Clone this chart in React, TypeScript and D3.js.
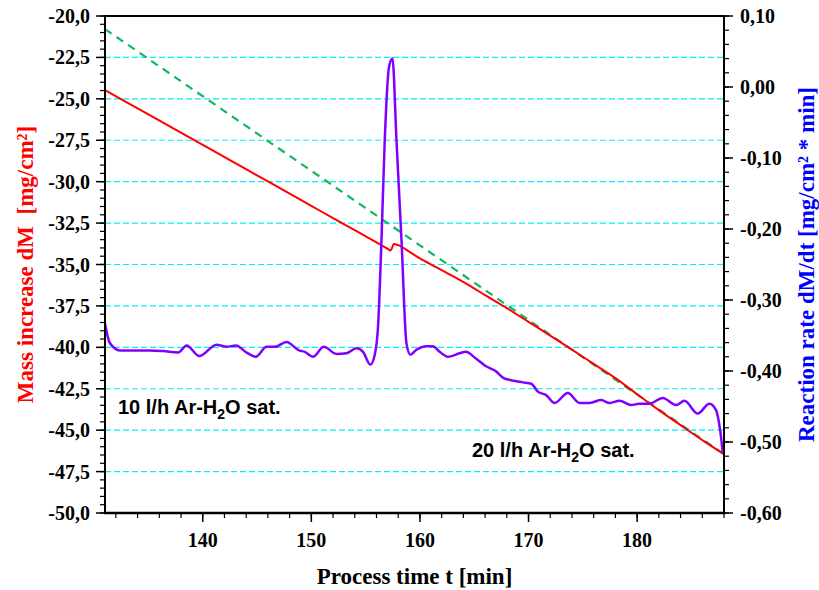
import React from 'react';
import * as d3 from 'd3';

const W = 819;
const H = 590;
const PL = 105, PR = 724, PT = 16, PB = 513;

const xMajorTicks = [140, 150, 160, 170, 180];
const xMinorTicks = d3.range(132, 189, 2);
const yLeftTicks = [-20, -22.5, -25, -27.5, -30, -32.5, -35, -37.5, -40, -42.5, -45, -47.5, -50];
const yLeftMinor = d3.range(-50, -19.9, 0.5);
const yRightTicks = [0.1, 0, -0.1, -0.2, -0.3, -0.4, -0.5, -0.6];
const yRightMinor = d3.range(-0.6, 0.101, 0.02);
const gridValues = [-22.5, -25, -27.5, -30, -32.5, -35, -37.5, -40, -42.5, -45, -47.5];

// Mass increase (red)
const redTime = [131, 133, 135, 137, 140, 143, 145, 148, 150, 152, 154, 156, 157, 157.3, 157.6, 158, 159, 160, 161.5, 163, 164.5, 166, 168, 170, 172, 174, 176, 178, 180, 182, 184, 186, 188];
const redMass = [-24.47, -25.21, -25.94, -26.68, -27.78, -28.88, -29.62, -30.72, -31.46, -32.2, -32.93, -33.67, -34.04, -34.15, -33.77, -33.83, -34.22, -34.63, -35.16, -35.69, -36.25, -36.85, -37.63, -38.46, -39.29, -40.14, -41.0, -41.86, -42.83, -43.79, -44.7, -45.6, -46.45];

// Linear fit (green dashed)
const greenTime = [131, 188];
const greenMass = [-20.79, -46.45];

// Reaction rate (purple, right axis)
const purpleTime = [131.0, 131.46, 132.38, 133.6, 135.14, 136.36, 137.74, 138.52, 139.68, 141.28, 142.2, 143.05, 144.04, 144.89, 145.88, 146.64, 147.72, 148.87, 149.4, 150.16, 151.15, 152.32, 153.24, 154.16, 154.76, 155.44, 155.84, 156.14, 156.46, 156.76, 157.16, 157.47, 157.84, 158.3, 158.76, 159.12, 159.68, 160.6, 161.2, 161.82, 162.58, 163.66, 164.21, 165.13, 166.05, 166.97, 167.71, 168.41, 169.48, 170.25, 170.86, 171.63, 172.4, 173.62, 174.7, 175.62, 176.69, 177.46, 178.38, 179.45, 180.22, 181.14, 182.36, 183.59, 184.36, 185.58, 186.66, 187.27, 187.64, 187.88];
const purpleRate = [-0.333, -0.361, -0.371, -0.371, -0.371, -0.372, -0.374, -0.364, -0.379, -0.363, -0.366, -0.364, -0.374, -0.38, -0.366, -0.366, -0.359, -0.371, -0.373, -0.38, -0.366, -0.376, -0.375, -0.368, -0.373, -0.391, -0.377, -0.338, -0.215, -0.075, 0.029, 0.04, -0.075, -0.215, -0.361, -0.377, -0.37, -0.365, -0.365, -0.373, -0.38, -0.375, -0.373, -0.382, -0.393, -0.4, -0.41, -0.413, -0.416, -0.418, -0.429, -0.434, -0.445, -0.431, -0.445, -0.445, -0.441, -0.445, -0.442, -0.448, -0.446, -0.446, -0.438, -0.448, -0.442, -0.46, -0.446, -0.455, -0.483, -0.514];

const fmtLeft = (v: number) => v.toFixed(1).replace('.', ',');
const fmtRight = (v: number) => v.toFixed(2).replace('.', ',').replace('-0,00', '0,00');

export default function App() {
  const x = d3.scaleLinear().domain([131, 188]).range([PL, PR]);
  const yL = d3.scaleLinear().domain([-50, -20]).range([PB, PT]);
  const yR = d3.scaleLinear().domain([-0.6, 0.1]).range([PB, PT]);

  const redLine = d3.line<number>().x((_, i) => x(redTime[i])).y((d) => yL(d)).curve(d3.curveMonotoneX)(redMass) || '';
  const greenLine = d3.line<number>().x((_, i) => x(greenTime[i])).y((d) => yL(d))(greenMass) || '';
  const purpleLine = d3.line<number>().x((_, i) => x(purpleTime[i])).y((d) => yR(d)).curve(d3.curveMonotoneX)(purpleRate) || '';

  const serif = '"Liberation Serif", "Times New Roman", serif';
  const sans = '"Liberation Sans", Arial, sans-serif';

  return (
    <svg width={W} height={H} style={{ position: 'absolute', left: 0, top: 0, background: '#fff' }}>
      <rect x={0} y={0} width={W} height={H} fill="#fff" />
      {/* grid */}
      {gridValues.map((v) => (
        <line key={'g' + v} x1={PL} x2={PR} y1={yL(v)} y2={yL(v)} stroke="#00f0f8" strokeWidth={1.2} strokeDasharray="6,3" />
      ))}
      {/* lines */}
      <path d={greenLine} fill="none" stroke="#10b860" strokeWidth={2.2} strokeDasharray="8,6" />
      <path d={redLine} fill="none" stroke="#ff0000" strokeWidth={2} />
      <path d={purpleLine} fill="none" stroke="#8000ff" strokeWidth={2.5} />

      {/* frame */}
      <line x1={PL} x2={PR} y1={PT} y2={PT} stroke="#000" strokeWidth={2} />
      <line x1={PL} x2={PL} y1={PT - 1} y2={PB + 1} stroke="#000" strokeWidth={2} />
      <line x1={PR} x2={PR} y1={PT - 1} y2={PB + 1} stroke="#000" strokeWidth={2} />
      <line x1={PL - 1} x2={PR + 1} y1={PB} y2={PB} stroke="#000" strokeWidth={2.5} />

      {/* left ticks */}
      {yLeftMinor.map((v) => (
        <line key={'lm' + v} x1={PL - 5} x2={PL} y1={yL(v)} y2={yL(v)} stroke="#000" strokeWidth={1.2} />
      ))}
      {yLeftTicks.map((v) => (
        <g key={'lt' + v}>
          <line x1={PL - 9} x2={PL} y1={yL(v)} y2={yL(v)} stroke="#000" strokeWidth={1.5} />
          <text x={PL - 15} y={yL(v)} dy="0.35em" textAnchor="end" fontFamily={serif} fontWeight="bold" fontSize={20} fill="#000">
            {fmtLeft(v)}
          </text>
        </g>
      ))}

      {/* right ticks */}
      {yRightMinor.map((v) => (
        <line key={'rm' + v} x1={PR} x2={PR + 5} y1={yR(v)} y2={yR(v)} stroke="#000" strokeWidth={1.2} />
      ))}
      {yRightTicks.map((v) => (
        <g key={'rt' + v}>
          <line x1={PR} x2={PR + 9} y1={yR(v)} y2={yR(v)} stroke="#000" strokeWidth={1.5} />
          <text x={PR + 16} y={yR(v)} dy="0.35em" textAnchor="start" fontFamily={serif} fontWeight="bold" fontSize={20} fill="#000">
            {fmtRight(v)}
          </text>
        </g>
      ))}

      {/* x ticks */}
      {xMinorTicks.map((v) => (
        <line key={'xm' + v} x1={x(v)} x2={x(v)} y1={PB} y2={PB + 5} stroke="#000" strokeWidth={1.2} />
      ))}
      {xMajorTicks.map((v) => (
        <g key={'xt' + v}>
          <line x1={x(v)} x2={x(v)} y1={PB} y2={PB + 9} stroke="#000" strokeWidth={1.5} />
          <text x={x(v)} y={547} textAnchor="middle" fontFamily={serif} fontWeight="bold" fontSize={20} fill="#000">
            {v}
          </text>
        </g>
      ))}

      {/* axis titles */}
      <text x={(PL + PR) / 2} y={584} textAnchor="middle" fontFamily={serif} fontWeight="bold" fontSize={23} fill="#000">
        Process time t [min]
      </text>
      <text transform={`translate(33,${(PT + PB) / 2}) rotate(-90)`} textAnchor="middle" fontFamily={serif} fontWeight="bold" fontSize={23} fill="#ff0000" style={{ whiteSpace: 'pre' }}>
        {'Mass increase dM  [mg/cm²]'}
      </text>
      <text transform={`translate(814,${(PT + PB) / 2}) rotate(-90)`} textAnchor="middle" fontFamily={serif} fontWeight="bold" fontSize={23} fill="#0000ff">
        Reaction rate dM/dt [mg/cm² * min]
      </text>

      {/* annotations */}
      <text x={118} y={414} fontFamily={sans} fontWeight="bold" fontSize={20} fill="#000">
        10 l/h Ar-H<tspan fontSize={14} dy={5}>2</tspan><tspan dy={-5}>O sat.</tspan>
      </text>
      <text x={472} y={457} fontFamily={sans} fontWeight="bold" fontSize={20} fill="#000">
        20 l/h Ar-H<tspan fontSize={14} dy={5}>2</tspan><tspan dy={-5}>O sat.</tspan>
      </text>
    </svg>
  );
}
